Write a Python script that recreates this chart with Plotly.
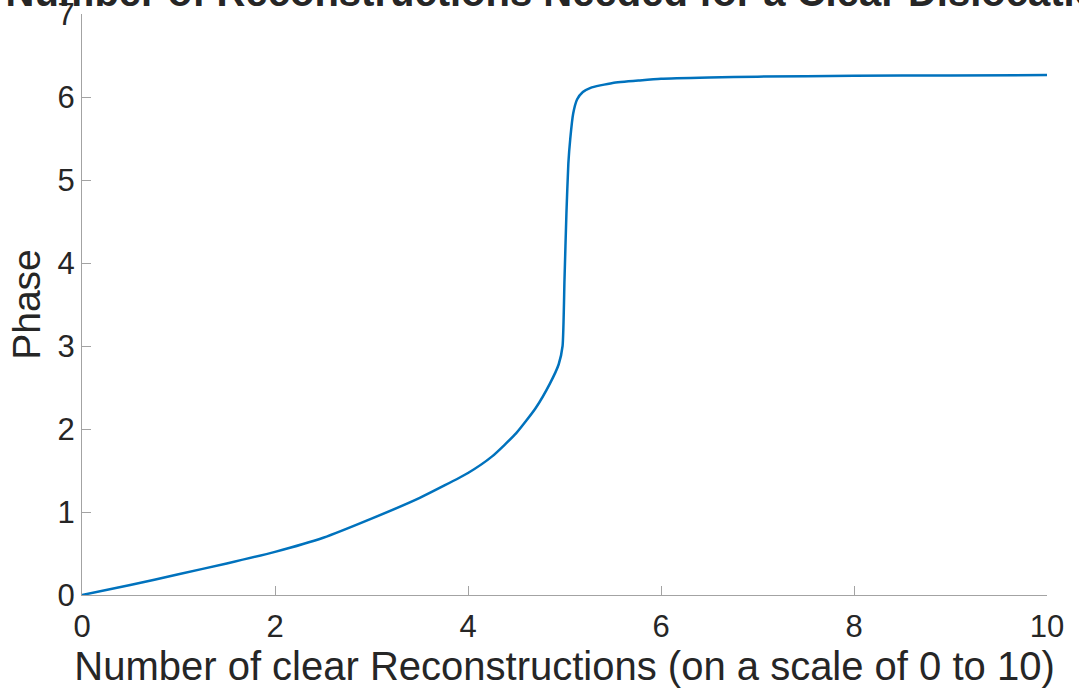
import plotly.graph_objects as go

# Data
reconstructions = [0, 0.5, 1, 1.5, 2, 2.5, 3, 3.5, 4, 4.25, 4.5, 4.7, 4.85, 4.94, 4.98,
                   5.0, 5.02, 5.04, 5.06, 5.09, 5.13, 5.19, 5.27, 5.37, 5.5, 5.78,
                   6, 6.5, 7, 8, 9, 10]
phase = [0, 0.12, 0.25, 0.38, 0.52, 0.69, 0.92, 1.17, 1.47, 1.67, 1.95, 2.25, 2.55, 2.78, 3.0,
         3.8, 4.6, 5.2, 5.5, 5.8, 5.97, 6.06, 6.11, 6.14, 6.17, 6.20,
         6.22, 6.235, 6.245, 6.255, 6.26, 6.265]

x_ticks = [0, 2, 4, 6, 8, 10]
y_ticks = [0, 1, 2, 3, 4, 5, 6, 7]

title_text = "Number of Reconstructions Needed for a Clear Dislocation"
x_title = "Number of clear Reconstructions (on a scale of 0 to 10)"
y_title = "Phase"

FONT = "Liberation Sans, Arial, Helvetica, sans-serif"
AXIS_COLOR = "#a3a3a3"

fig = go.Figure()
fig.add_trace(go.Scatter(
    x=reconstructions, y=phase, mode="lines",
    line=dict(color="#0072BD", width=2.5, shape="spline", smoothing=0.5),
    showlegend=False,
))

fig.update_layout(
    width=1079, height=691,
    margin=dict(l=82, r=32, t=14, b=96, autoexpand=False),
    paper_bgcolor="white", plot_bgcolor="white",
    font=dict(family=FONT, size=31, color="#262626"),
    title=dict(text="<b>" + title_text + "</b>", x=0.5, xanchor="center",
               xref="paper", yref="container", y=0.9913, yanchor="bottom",
               font=dict(size=40, color="#262626")),
)

fig.update_xaxes(
    range=[0, 10], tickvals=x_ticks, ticktext=[str(v) for v in x_ticks],
    showline=True, linecolor=AXIS_COLOR, linewidth=1.2,
    ticks="inside", ticklen=9, tickcolor=AXIS_COLOR, tickwidth=1,
    showgrid=False, zeroline=False, mirror=False, automargin=False,
    title=dict(text=x_title, standoff=6, font=dict(size=40)),
    ticklabelstandoff=4, ticklabeloverflow="allow",
)
fig.update_yaxes(
    range=[0, 7], tickvals=y_ticks, ticktext=[str(v) for v in y_ticks],
    showline=True, linecolor=AXIS_COLOR, linewidth=1.2,
    ticks="inside", ticklen=9, tickcolor=AXIS_COLOR, tickwidth=1,
    showgrid=False, zeroline=False, mirror=False, automargin=False,
    title=dict(text=y_title, standoff=4, font=dict(size=39)),
    ticklabelstandoff=0, ticklabeloverflow="allow",
)

fig.write_html("out.html", config={"displayModeBar": False},
               post_script="document.body.style.margin='0px';")
